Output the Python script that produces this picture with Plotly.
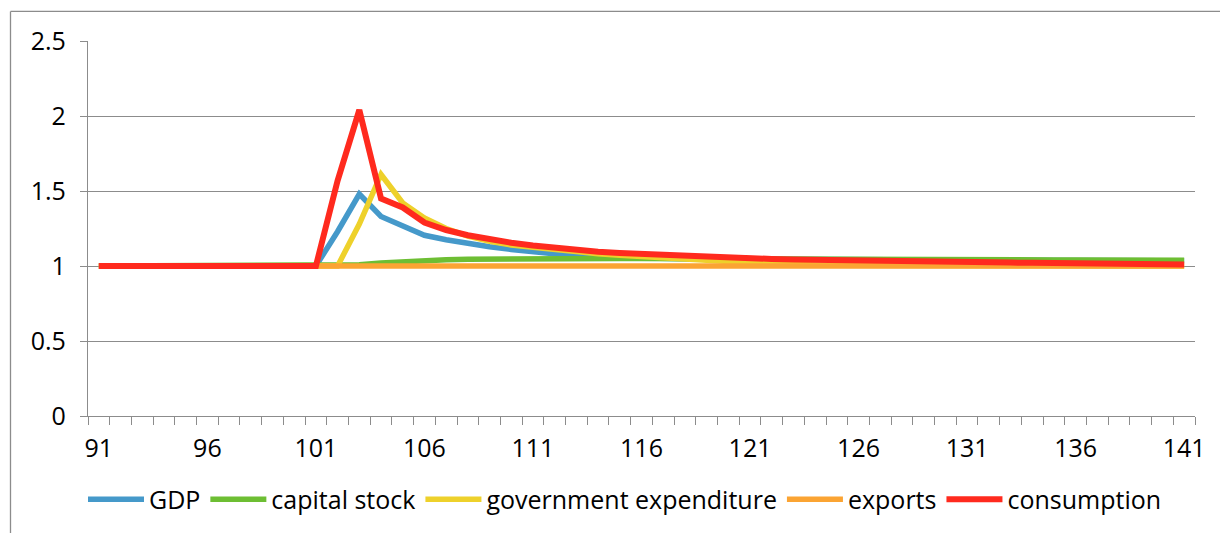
import plotly.graph_objects as go

periods = list(range(91, 142))

gdp = [1.0]*11 + [1.23, 1.48, 1.33, 1.265, 1.205, 1.175, 1.15, 1.128, 1.11, 1.095,
                  1.078, 1.067, 1.06, 1.055, 1.052, 1.05, 1.048, 1.047, 1.046, 1.045,
                  1.044, 1.044, 1.043, 1.043, 1.042, 1.042, 1.041, 1.041, 1.040, 1.040,
                  1.039, 1.039, 1.038, 1.038, 1.037, 1.037, 1.036, 1.036, 1.035, 1.035]
capital_stock = [1.0]*11 + [1.002, 1.008, 1.02, 1.03, 1.037, 1.042, 1.045, 1.047, 1.049, 1.05,
                            1.05, 1.05, 1.05, 1.05, 1.05, 1.049, 1.049, 1.048, 1.048, 1.047,
                            1.047, 1.046, 1.046, 1.045, 1.045, 1.044, 1.044, 1.043, 1.043, 1.042,
                            1.042, 1.041, 1.041, 1.040, 1.040, 1.040, 1.039, 1.039, 1.039, 1.038]
government_expenditure = [1.0]*11 + [1.0, 1.28, 1.61, 1.42, 1.32, 1.25, 1.20, 1.165, 1.14, 1.125,
                                     1.108, 1.095, 1.082, 1.072, 1.062, 1.055, 1.047, 1.04, 1.03, 1.022,
                                     1.015, 1.01, 1.007, 1.005, 1.004, 1.003, 1.002, 1.002, 1.001, 1.001,
                                     1.0, 1.0, 1.0, 1.0, 1.0, 1.0, 1.0, 1.0, 1.0, 1.0]
exports = [1.0]*51
consumption = [1.0]*11 + [1.57, 2.04, 1.45, 1.39, 1.29, 1.24, 1.205, 1.175, 1.155, 1.137,
                          1.12, 1.105, 1.095, 1.087, 1.08, 1.073, 1.067, 1.062, 1.057, 1.052,
                          1.047, 1.043, 1.040, 1.038, 1.036, 1.034, 1.032, 1.030, 1.028, 1.026,
                          1.025, 1.023, 1.021, 1.020, 1.018, 1.016, 1.015, 1.013, 1.012, 1.010]

x_tick_labels = [91, 96, 101, 106, 111, 116, 121, 126, 131, 136, 141]
y_ticks = [0, 0.5, 1, 1.5, 2, 2.5]

series = [
    ("GDP", gdp, "#4599CA", 5.5),
    ("capital stock", capital_stock, "#6DBE33", 5.5),
    ("government expenditure", government_expenditure, "#EED12B", 5.5),
    ("exports", exports, "#FBA433", 5.5),
    ("consumption", consumption, "#FF2A1E", 6),
]

fig = go.Figure()
for name, vals, col, lw in series:
    fig.add_trace(go.Scatter(x=periods, y=vals, name=name, mode="lines",
                             line=dict(color=col, width=lw)))

FONT = "Open Sans"
FS = 25
OFF = 8  # page body margin
W, H = 1228 - OFF, 533 - OFF
# plot area in page pixels: x 88..1195, y 41..415.6
L = 88 - OFF
T = 41 - OFF
R = W - (1195 - OFF)
B = H - (415.6 - OFF)
pw, ph = W - L - R, H - T - B

def px_x(p):
    return (p - OFF - L) / pw

def px_y(p):
    return (H - B - (p - OFF)) / ph

fig.update_layout(
    width=W, height=H,
    margin=dict(l=L, r=R, t=T, b=B, autoexpand=False),
    paper_bgcolor="white", plot_bgcolor="white",
    font=dict(family=FONT, size=FS, color="#000000"),
    showlegend=True,
    legend=dict(orientation="h", x=px_x(625), xanchor="center", y=px_y(499), yanchor="middle",
                font=dict(family=FONT, size=FS, color="#000000"), itemwidth=56,
                bgcolor="rgba(0,0,0,0)"),
    xaxis=dict(range=[90.5, 141.5], tickmode="array", tickvals=x_tick_labels,
               ticktext=[str(v) for v in x_tick_labels], automargin=False,
               showgrid=False, zeroline=False, showline=True, linecolor="#8C8C8C", linewidth=1.3,
               ticks="outside", ticklen=8, tickcolor="rgba(0,0,0,0)", ticklabelstandoff=2,
               minor=dict(tickmode="linear", tick0=90.5, dtick=1, ticks="outside", ticklen=8,
                          tickcolor="#8C8C8C", tickwidth=1.3, showgrid=False),
               tickfont=dict(family=FONT, size=FS, color="#000000")),
    yaxis=dict(range=[0, 2.5], tickmode="array", tickvals=y_ticks,
               ticktext=["0", "0.5", "1", "1.5", "2", "2.5"], automargin=False,
               showgrid=True, gridcolor="#8C8C8C", gridwidth=1.3, zeroline=False,
               showline=True, linecolor="#8C8C8C", linewidth=1.3,
               ticks="outside", ticklen=7, tickcolor="#8C8C8C", tickwidth=1.3,
               ticklabelstandoff=9,
               tickfont=dict(family=FONT, size=FS, color="#000000")),
    shapes=[
        dict(type="line", xref="paper", yref="paper", x0=px_x(10.5), x1=px_x(10.5),
             y0=px_y(11.5), y1=px_y(545), line=dict(color="#8C8C8C", width=1.3)),
        dict(type="line", xref="paper", yref="paper", x0=px_x(10.5), x1=px_x(1240),
             y0=px_y(11.5), y1=px_y(11.5), line=dict(color="#8C8C8C", width=1.3)),
    ],
)

fig.write_html("out.html")
